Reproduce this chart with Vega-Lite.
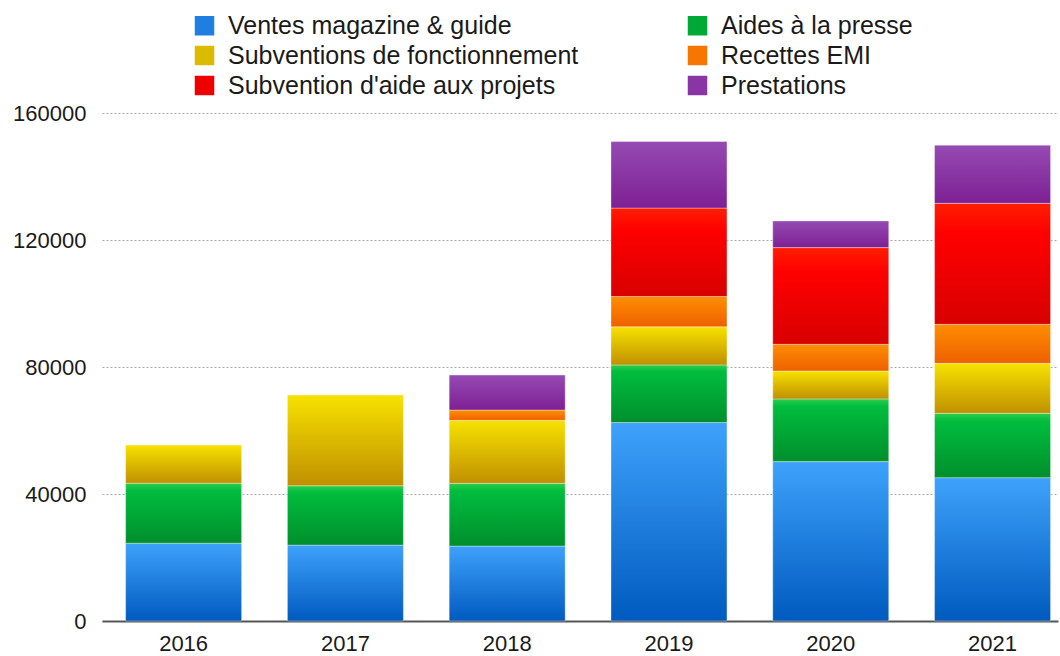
{
  "$schema": "https://vega.github.io/schema/vega-lite/v6.json",
  "width": 956,
  "height": 508,
  "autosize": {"type": "none"},
  "padding": {"left": 102, "top": 113, "right": 2, "bottom": 35},
  "background": "white",
  "config": {"view": {"stroke": null}, "font": "Liberation Sans"},
  "data": {"values": [
    {"year": "2016", "serie": "Ventes magazine & guide", "k": 1, "value": 24500},
    {"year": "2016", "serie": "Aides à la presse", "k": 2, "value": 18900},
    {"year": "2016", "serie": "Subventions de fonctionnement", "k": 3, "value": 12000},
    {"year": "2017", "serie": "Ventes magazine & guide", "k": 1, "value": 23900},
    {"year": "2017", "serie": "Aides à la presse", "k": 2, "value": 18700},
    {"year": "2017", "serie": "Subventions de fonctionnement", "k": 3, "value": 28600},
    {"year": "2018", "serie": "Ventes magazine & guide", "k": 1, "value": 23600},
    {"year": "2018", "serie": "Aides à la presse", "k": 2, "value": 19750},
    {"year": "2018", "serie": "Subventions de fonctionnement", "k": 3, "value": 19850},
    {"year": "2018", "serie": "Recettes EMI", "k": 4, "value": 3250},
    {"year": "2018", "serie": "Prestations", "k": 6, "value": 11000},
    {"year": "2019", "serie": "Ventes magazine & guide", "k": 1, "value": 62500},
    {"year": "2019", "serie": "Aides à la presse", "k": 2, "value": 18150},
    {"year": "2019", "serie": "Subventions de fonctionnement", "k": 3, "value": 12000},
    {"year": "2019", "serie": "Recettes EMI", "k": 4, "value": 9550},
    {"year": "2019", "serie": "Subvention d'aide aux projets", "k": 5, "value": 27850},
    {"year": "2019", "serie": "Prestations", "k": 6, "value": 20950},
    {"year": "2020", "serie": "Ventes magazine & guide", "k": 1, "value": 50200},
    {"year": "2020", "serie": "Aides à la presse", "k": 2, "value": 19750},
    {"year": "2020", "serie": "Subventions de fonctionnement", "k": 3, "value": 8800},
    {"year": "2020", "serie": "Recettes EMI", "k": 4, "value": 8400},
    {"year": "2020", "serie": "Subvention d'aide aux projets", "k": 5, "value": 30450},
    {"year": "2020", "serie": "Prestations", "k": 6, "value": 8400},
    {"year": "2021", "serie": "Ventes magazine & guide", "k": 1, "value": 45150},
    {"year": "2021", "serie": "Aides à la presse", "k": 2, "value": 20250},
    {"year": "2021", "serie": "Subventions de fonctionnement", "k": 3, "value": 15750},
    {"year": "2021", "serie": "Recettes EMI", "k": 4, "value": 12300},
    {"year": "2021", "serie": "Subvention d'aide aux projets", "k": 5, "value": 38100},
    {"year": "2021", "serie": "Prestations", "k": 6, "value": 18300}
  ]},
  "mark": {"type": "bar", "stroke": "white", "strokeOpacity": 0.35, "strokeWidth": 1},
  "encoding": {
    "x": {
      "field": "year", "type": "ordinal",
      "scale": {"paddingInner": 0.283, "paddingOuter": 0.096, "align": 0.76},
      "axis": {"title": null, "labelAngle": 0, "labelFontSize": 22, "labelColor": "#1a1a1a", "labelPadding": 12, "ticks": false, "domainColor": "#555555", "domainWidth": 2, "grid": false}
    },
    "y": {
      "field": "value", "type": "quantitative", "stack": "zero",
      "scale": {"domain": [0, 160000], "nice": false},
      "axis": {"title": null, "values": [0, 40000, 80000, 120000, 160000], "format": "d", "labelFontSize": 22, "labelColor": "#1a1a1a", "labelPadding": 16, "ticks": false, "domain": false, "gridColor": "#a8a8a8", "gridDash": [2, 2], "gridWidth": 1}
    },
    "color": {
      "field": "serie", "type": "nominal",
      "condition": [
        {"test": "datum.k == 1", "value": {"gradient": "linear", "x1": 0, "y1": 0, "x2": 0, "y2": 1, "stops": [{"offset": 0, "color": "#3ea2fb"}, {"offset": 1, "color": "#005abf"}]}},
        {"test": "datum.k == 2", "value": {"gradient": "linear", "x1": 0, "y1": 0, "x2": 0, "y2": 1, "stops": [{"offset": 0, "color": "#30cc4c"}, {"offset": 0.12, "color": "#00bd3e"}, {"offset": 1, "color": "#008f2c"}]}},
        {"test": "datum.k == 3", "value": {"gradient": "linear", "x1": 0, "y1": 0, "x2": 0, "y2": 1, "stops": [{"offset": 0, "color": "#f7e200"}, {"offset": 1, "color": "#c09000"}]}},
        {"test": "datum.k == 4", "value": {"gradient": "linear", "x1": 0, "y1": 0, "x2": 0, "y2": 1, "stops": [{"offset": 0, "color": "#ff8e00"}, {"offset": 1, "color": "#ee6000"}]}},
        {"test": "datum.k == 5", "value": {"gradient": "linear", "x1": 0, "y1": 0, "x2": 0, "y2": 1, "stops": [{"offset": 0, "color": "#ff1e00"}, {"offset": 0.25, "color": "#ff0000"}, {"offset": 1, "color": "#d80000"}]}},
        {"test": "datum.k == 6", "value": {"gradient": "linear", "x1": 0, "y1": 0, "x2": 0, "y2": 1, "stops": [{"offset": 0, "color": "#954ab2"}, {"offset": 1, "color": "#7e2095"}]}}
      ],
      "scale": {
        "domain": ["Ventes magazine & guide", "Aides à la presse", "Subventions de fonctionnement", "Recettes EMI", "Subvention d'aide aux projets", "Prestations"],
        "range": ["#1f7fe0", "#00a835", "#dcba00", "#f67600", "#ee0000", "#8a35a4"]
      },
      "legend": {
        "title": null, "orient": "none", "legendX": 90, "legendY": -100, "columns": 2, "direction": "horizontal",
        "symbolType": "square", "symbolSize": 380, "symbolStrokeWidth": 0, "symbolOpacity": 1,
        "labelFontSize": 25, "labelColor": "#1a1a1a", "labelOffset": 11, "labelLimit": 600,
        "columnPadding": 106, "rowPadding": 4
      }
    },
    "order": {"field": "k", "type": "quantitative"}
  }
}
